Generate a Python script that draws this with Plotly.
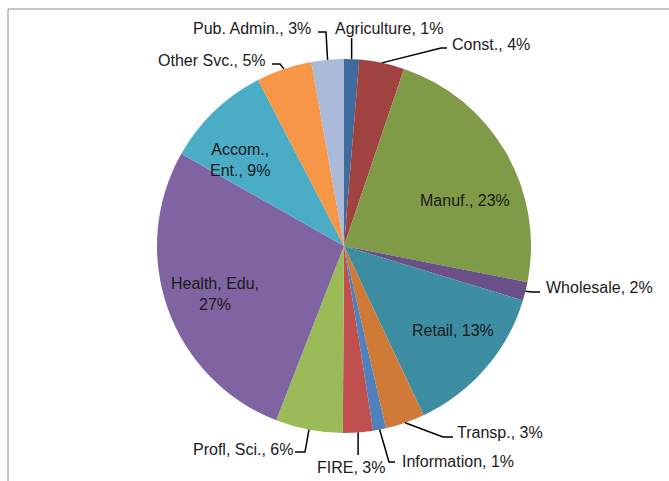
import math
import plotly.graph_objects as go

labels = ["Agriculture", "Const.", "Manuf.", "Wholesale", "Retail", "Transp.",
          "Information", "FIRE", "Profl, Sci.", "Health, Edu", "Accom., Ent.",
          "Other Svc.", "Pub. Admin."]
values = [1.3, 3.9, 22.9, 1.6, 13.3, 3.4, 1.1, 2.6, 5.8, 27.3, 9.2, 4.8, 2.8]
colors = ["#3E6A9C", "#A04340", "#7F9B48", "#6A5086", "#3C8CA2", "#CF7B37",
          "#4F81BD", "#C0504D", "#9BBB59", "#8064A2", "#4BACC6", "#F79646", "#AABAD8"]

W, H = 669, 481
CX, CY, R = 344, 246, 187          # pie centre / radius in pixels
FONT = dict(family="Liberation Sans, Arial, sans-serif", size=16, color="#1a1a1a")

# label layout in pixels: (text x, text y, xanchor, leader stub [x0, x1, y] or None)
label_layout = {
    "Agriculture":  (333, 28, "left",   ("v", 38)),
    "Const.":       (450, 44, "left",   (447, 441, 48)),
    "Manuf.":       (465, 201, "center", None),
    "Wholesale":    (544, 287, "left",   (540, 532, 292)),
    "Retail":       (453, 330, "center", None),
    "Transp.":      (455, 432, "left",   (453, 443, 437)),
    "Information":  (400, 461, "left",   (395, 389, 462)),
    "FIRE":         (351, 467, "center", ("v", 455)),
    "Profl, Sci.":  (295, 449, "right",  (295, 305, 452)),
    "Health, Edu":  (215, 294, "center", None),
    "Accom., Ent.": (240, 160, "center", None),
    "Other Svc.":   (268, 61, "right",  (272, 280, 64)),
    "Pub. Admin.":  (313, 28, "right",  (318, 326, 32)),
}
wrapped = {"Health, Edu": "Health, Edu,<br>{p}%", "Accom., Ent.": "Accom.,<br>Ent., {p}%"}


def px(x):
    return x / W


def py(y):
    return 1 - y / H


fig = go.Figure(go.Pie(
    labels=labels, values=values, sort=False, direction="clockwise", rotation=0,
    marker=dict(colors=colors, line=dict(width=0)), textinfo="none",
    domain=dict(x=[px(CX - R), px(CX + R)], y=[py(CY + R), py(CY - R)]),
    showlegend=False, hoverinfo="label+percent",
))

total = sum(values)
annotations, shapes = [], []
cum = 0.0
for lab, v in zip(labels, values):
    mid = (cum + v / 2) / total * 2 * math.pi
    cum += v
    hx, hy = CX + R * math.sin(mid), CY - R * math.cos(mid)
    p = round(v / total * 100)
    txt = wrapped.get(lab, "{l}, {p}%").format(l=lab, p=p)
    tx, ty, anc, stub = label_layout[lab]
    annotations.append(dict(x=px(tx), y=py(ty), xref="paper", yref="paper", text=txt,
                            showarrow=False, xanchor=anc, yanchor="middle", font=FONT))
    if stub is not None:
        if stub[0] == "v":
            path = f"M {px(hx)},{py(stub[1])} L {px(hx)},{py(hy)}"
        else:
            x0, x1, sy = stub
            path = f"M {px(x0)},{py(sy)} L {px(x1)},{py(sy)} L {px(hx)},{py(hy)}"
        shapes.append(dict(type="path", xref="paper", yref="paper", path=path,
                           line=dict(color="#000000", width=1.5)))

shapes.append(dict(type="rect", xref="paper", yref="paper", x0=px(8), x1=1.1,
                   y0=-0.1, y1=py(9), line=dict(color="#8C8C8C", width=1)))

fig.update_layout(
    width=W, height=H, margin=dict(l=0, r=0, t=0, b=0),
    paper_bgcolor="white", plot_bgcolor="white",
    annotations=annotations, shapes=shapes,
)

fig.write_html("out.html", config={"displayModeBar": False},
               post_script="document.body.style.margin='0';document.body.style.overflow='hidden';")
